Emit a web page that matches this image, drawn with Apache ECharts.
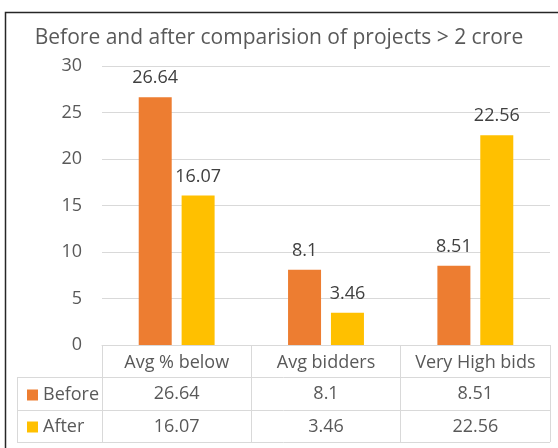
<!DOCTYPE html>
<html>
<head>
<meta charset="utf-8">
<script src="https://cdn.jsdelivr.net/npm/echarts@6/dist/echarts.min.js"></script>
<style>
  html, body { margin: 0; padding: 0; background: #fff; }
  #chart { width: 558px; height: 448px; }
</style>
</head>
<body>
<div id="chart"></div>
<script>
// 数据
var categories = ['Avg % below', 'Avg bidders', 'Very High bids'];
var before = [26.64, 8.1, 8.51];
var after = [16.07, 3.46, 22.56];
var yTicks = [0, 5, 10, 15, 20, 25, 30];

var font = 'Open Sans';
var grey = '#595959';
var line = '#d9d9d9';

var myChart = echarts.init(document.getElementById('chart'));

// 表格的横线
function hline(y) {
    return { type: 'line', shape: { x1: 17, y1: y, x2: 550, y2: y }, style: { stroke: line, lineWidth: 1 } };
}

var option = {
    animation: false,
    title: {
        text: 'Before and after comparision of projects > 2 crore',
        left: 'center',
        top: 23,
        textStyle: { fontFamily: font, fontSize: 21, fontWeight: 'normal', color: grey }
    },
    legend: {
        data: ['Before', 'After'],
        orient: 'vertical',
        left: 22,
        top: 381,
        itemWidth: 11,
        itemHeight: 11,
        itemGap: 14,
        icon: 'rect',
        selectedMode: false,
        textStyle: { fontFamily: font, fontSize: 18, color: grey }
    },
    grid: { left: 102, right: 8, top: 66, bottom: 103, containLabel: false },
    xAxis: [{
        type: 'category',
        data: categories,
        axisLine: { lineStyle: { color: line } },
        axisTick: { show: true, interval: 0, length: 97, lineStyle: { color: line } },
        axisLabel: { interval: 0, fontFamily: font, fontSize: 18, color: grey, margin: 9 }
    }, {
        type: 'category',
        data: before.map(String),
        position: 'bottom',
        offset: 32,
        axisLine: { show: false },
        axisTick: { show: false },
        axisLabel: { interval: 0, fontFamily: font, fontSize: 18, color: grey, margin: 8 }
    }, {
        type: 'category',
        data: after.map(String),
        position: 'bottom',
        offset: 65,
        axisLine: { show: false },
        axisTick: { show: false },
        axisLabel: { interval: 0, fontFamily: font, fontSize: 18, color: grey, margin: 8 }
    }],
    yAxis: {
        type: 'value',
        min: yTicks[0],
        max: yTicks[yTicks.length - 1],
        interval: 5,
        axisLine: { show: false },
        axisTick: { show: false },
        splitLine: { lineStyle: { color: line } },
        axisLabel: { fontFamily: font, fontSize: 18, color: grey, margin: 20 }
    },
    series: [{
        name: 'Before',
        type: 'bar',
        data: before,
        barWidth: 33,
        barGap: '30%',
        itemStyle: { color: '#ED7D31' },
        label: { show: true, position: 'top', distance: 10, fontFamily: font, fontSize: 18, color: '#404040' }
    }, {
        name: 'After',
        type: 'bar',
        data: after,
        barWidth: 33,
        itemStyle: { color: '#FFC000' },
        label: { show: true, position: 'top', distance: 10, fontFamily: font, fontSize: 18, color: '#404040' }
    }],
    graphic: [
        { type: 'rect', shape: { x: 5.5, y: 12.5, width: 560, height: 440 }, style: { fill: 'none', stroke: '#262626', lineWidth: 1.5 } },
        hline(377.5), hline(410.5), hline(442.5),
        { type: 'line', shape: { x1: 17.5, y1: 377, x2: 17.5, y2: 443 }, style: { stroke: line, lineWidth: 1 } }
    ]
};
myChart.setOption(option);
</script>
</body>
</html>
